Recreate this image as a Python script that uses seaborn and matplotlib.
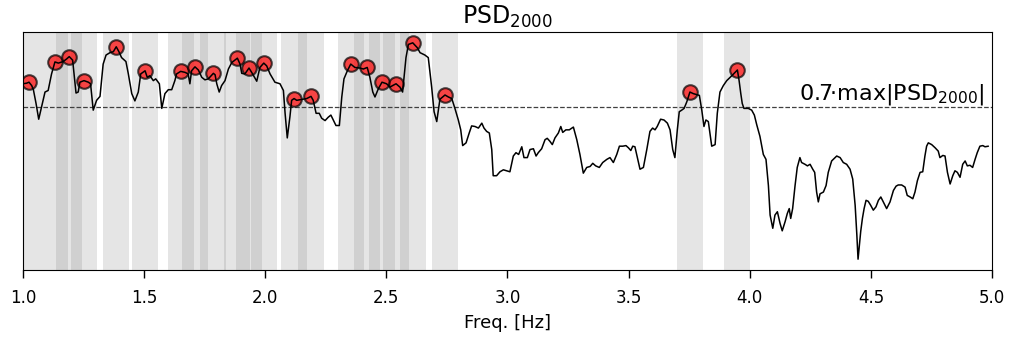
import numpy as np
import pandas as pd
import matplotlib
matplotlib.use("Agg")
import matplotlib.pyplot as plt
import seaborn as sns

# PSD trace
freq_hz = [
    1.000, 1.015, 1.025, 1.036, 1.043, 1.054, 1.065, 1.077, 1.091, 1.104,
    1.118, 1.132, 1.146, 1.166, 1.180, 1.191, 1.205, 1.219, 1.228, 1.235,
    1.252, 1.270, 1.279, 1.290, 1.304, 1.318, 1.331, 1.343, 1.359, 1.373,
    1.385, 1.396, 1.407, 1.425, 1.435, 1.449, 1.462, 1.476, 1.486, 1.504,
    1.513, 1.524, 1.538, 1.548, 1.563,
    1.573, 1.586, 1.600, 1.614, 1.627, 1.634, 1.651, 1.669, 1.682, 1.689,
    1.696, 1.710, 1.724, 1.738, 1.751, 1.765, 1.786, 1.793, 1.800, 1.810,
    1.820, 1.834, 1.848, 1.862, 1.885, 1.896, 1.903, 1.916, 1.933, 1.944,
    1.965, 1.978, 1.994, 2.006, 2.020, 2.040, 2.061, 2.075, 2.082, 2.091,
    2.102, 2.109, 2.119, 2.130,
    2.171, 2.189, 2.198, 2.210, 2.223, 2.233, 2.247, 2.260, 2.271, 2.281,
    2.292, 2.306, 2.316, 2.325, 2.339, 2.353, 2.370, 2.391, 2.405, 2.421,
    2.432, 2.444, 2.453, 2.467, 2.482, 2.501, 2.515, 2.526, 2.540, 2.556,
    2.567, 2.581, 2.591, 2.609, 2.628, 2.639, 2.659, 2.673, 2.687, 2.697,
    2.708, 2.721,
    2.742, 2.756, 2.770, 2.783, 2.797, 2.807, 2.815, 2.829, 2.842, 2.852,
    2.866, 2.880, 2.894, 2.903, 2.914, 2.925, 2.935, 2.941, 2.955, 2.969,
    2.983, 2.997, 3.010, 3.024, 3.035, 3.046, 3.059, 3.068, 3.082, 3.093,
    3.107, 3.118, 3.127, 3.141, 3.155, 3.164, 3.175, 3.185, 3.196, 3.210,
    3.220, 3.228, 3.241, 3.255, 3.272, 3.286, 3.299,
    3.313, 3.327, 3.341, 3.352, 3.364, 3.379, 3.393, 3.410, 3.423, 3.437,
    3.451, 3.462, 3.476, 3.489, 3.499, 3.509, 3.517, 3.526, 3.536, 3.547,
    3.561, 3.575, 3.588, 3.599, 3.609, 3.618, 3.632, 3.646, 3.660, 3.671,
    3.682, 3.691, 3.701, 3.709, 3.719, 3.729, 3.740, 3.753, 3.767, 3.778,
    3.792, 3.802, 3.811, 3.819, 3.829, 3.843, 3.857, 3.866, 3.877,
    3.891, 3.905, 3.926, 3.949, 3.956, 3.963, 3.969, 3.976, 3.994, 4.008,
    4.019, 4.029, 4.042, 4.056, 4.067, 4.077, 4.084, 4.095, 4.104, 4.114,
    4.125, 4.134, 4.146, 4.155, 4.163, 4.169, 4.177, 4.187, 4.196, 4.207,
    4.214, 4.228, 4.238, 4.249, 4.260, 4.268, 4.276, 4.283, 4.290, 4.304,
    4.315, 4.324, 4.338, 4.359, 4.373, 4.386, 4.400, 4.414, 4.425, 4.435,
    4.442, 4.447,
    4.458, 4.465, 4.472, 4.480, 4.489, 4.499, 4.510, 4.521, 4.531, 4.541,
    4.551, 4.565, 4.579, 4.593, 4.604, 4.613, 4.627, 4.641, 4.650, 4.662,
    4.673, 4.682, 4.692, 4.703, 4.714, 4.723, 4.730, 4.737, 4.751, 4.765,
    4.778, 4.785, 4.797, 4.806, 4.816, 4.827, 4.838, 4.847, 4.857, 4.868,
    4.879, 4.889, 4.898, 4.909, 4.920, 4.930, 4.939, 4.950, 4.962, 4.971,
    4.985,
]
psd = [
    0.879, 0.882, 0.887, 0.870, 0.849, 0.779, 0.699, 0.762, 0.837, 0.845,
    0.929, 0.990, 0.984, 0.992, 1.005, 1.017, 0.999, 0.832, 0.837, 0.887,
    0.895, 0.887, 0.879, 0.745, 0.795, 0.815, 0.979, 1.025, 1.037, 1.042,
    1.067, 1.042, 1.012, 0.992, 0.929, 0.829, 0.792, 0.837, 0.929, 0.945,
    0.912, 0.920, 0.895, 0.904, 0.879,
    0.754, 0.829, 0.849, 0.849, 0.895, 0.929, 0.942, 0.937, 0.929, 0.879,
    0.945, 0.965, 0.949, 0.912, 0.899, 0.904, 0.932, 0.925, 0.879, 0.837,
    0.870, 0.895, 0.954, 0.987, 1.009, 0.979, 0.932, 0.929, 0.959, 0.937,
    0.892, 0.962, 0.984, 0.970, 0.929, 0.887, 0.879, 0.845, 0.729, 0.604,
    0.712, 0.795, 0.804, 0.795,
    0.804, 0.815, 0.795, 0.729, 0.729, 0.704, 0.692, 0.709, 0.720, 0.695,
    0.667, 0.667, 0.812, 0.904, 0.945, 0.979, 0.962, 0.959, 0.954, 0.962,
    0.912, 0.837, 0.812, 0.854, 0.887, 0.879, 0.862, 0.870, 0.879, 0.862,
    0.837, 1.012, 1.079, 1.087, 1.062, 1.037, 1.025, 1.012, 0.862, 0.737,
    0.687, 0.800,
    0.822, 0.812, 0.804, 0.754, 0.695, 0.645, 0.565, 0.579, 0.629, 0.665,
    0.662, 0.654, 0.679, 0.654, 0.637, 0.629, 0.545, 0.412, 0.412, 0.432,
    0.442, 0.437, 0.432, 0.512, 0.529, 0.520, 0.559, 0.504, 0.504, 0.545,
    0.549, 0.512, 0.529, 0.549, 0.595, 0.602, 0.587, 0.570, 0.604, 0.629,
    0.662, 0.632, 0.645, 0.645, 0.659, 0.595, 0.520,
    0.425, 0.454, 0.459, 0.475, 0.462, 0.454, 0.479, 0.495, 0.504, 0.479,
    0.520, 0.562, 0.562, 0.565, 0.554, 0.540, 0.562, 0.559, 0.504, 0.445,
    0.454, 0.545, 0.637, 0.654, 0.645, 0.662, 0.699, 0.695, 0.679, 0.645,
    0.545, 0.504, 0.645, 0.737, 0.745, 0.754, 0.787, 0.837, 0.829, 0.825,
    0.820, 0.745, 0.662, 0.695, 0.687, 0.562, 0.570, 0.729, 0.837,
    0.870, 0.895, 0.920, 0.949, 0.895, 0.829, 0.779, 0.754, 0.754, 0.745,
    0.720, 0.670, 0.612, 0.520, 0.495, 0.362, 0.212, 0.145, 0.212, 0.229,
    0.170, 0.132, 0.179, 0.220, 0.245, 0.195, 0.245, 0.362, 0.454, 0.504,
    0.479, 0.470, 0.462, 0.470, 0.445, 0.429, 0.329, 0.279, 0.320, 0.329,
    0.362, 0.429, 0.487, 0.512, 0.504, 0.479, 0.470, 0.445, 0.395, 0.262,
    0.112, -0.012,
    0.129, 0.195, 0.245, 0.287, 0.282, 0.262, 0.237, 0.254, 0.287, 0.304,
    0.279, 0.245, 0.279, 0.337, 0.359, 0.365, 0.365, 0.354, 0.312, 0.304,
    0.295, 0.329, 0.387, 0.429, 0.432, 0.512, 0.562, 0.579, 0.570, 0.554,
    0.537, 0.504, 0.515, 0.512, 0.429, 0.370, 0.412, 0.437, 0.429, 0.404,
    0.470, 0.487, 0.462, 0.465, 0.454, 0.495, 0.529, 0.562, 0.565, 0.559,
    0.562,
]
peak_freqs = [1.025, 1.132, 1.191, 1.252, 1.385, 1.504, 1.651, 1.710, 1.786,
              1.885, 1.933, 1.994, 2.119, 2.189, 2.353, 2.421, 2.482, 2.540,
              2.609, 2.742, 3.753, 3.949]
thresh_ratio = 0.7
band_halfwidth = 0.054  # Hz around each peak

df = pd.DataFrame({'freq': freq_hz, 'psd': psd})
peak_idx = [int(np.argmin(np.abs(df['freq'].values - f))) for f in peak_freqs]
peaks = df.iloc[peak_idx]
thresh = thresh_ratio * df['psd'].abs().max()

sns.set_style("ticks", {'axes.edgecolor': 'k', 'text.color': 'k',
                        'xtick.color': 'k', 'axes.labelcolor': 'k'})

fig, ax = plt.subplots(figsize=(10.16, 3.45), dpi=100)
fig.subplots_adjust(left=0.0226, right=0.9764, top=0.9072, bottom=0.2174)

for f in peaks['freq']:
    ax.axvspan(f - band_halfwidth, f + band_halfwidth, color='grey', alpha=0.2,
               lw=0, zorder=0)
ax.axhline(thresh, color='0.25', ls='--', lw=0.9, zorder=1)
sns.scatterplot(data=peaks, x='freq', y='psd', s=110, color='red', alpha=0.7,
                edgecolor='k', linewidth=1.5, ax=ax, zorder=2)
sns.lineplot(data=df, x='freq', y='psd', color='k', lw=1.1, ax=ax, zorder=3)

ax.text(4.97, thresh, '0.7·max|PSD$_{2000}$|', ha='right', va='bottom', fontsize=16)
ax.set_title('PSD$_{2000}$', fontsize=17)
ax.set_xlim(1, 5)
ax.set_yticks([])
ax.set_ylabel('')
ax.set_xlabel('Freq. [Hz]', fontsize=13, labelpad=5)
ax.tick_params(axis='x', labelsize=12, length=6, width=1, pad=8)

fig.savefig('out.png', dpi=100)
